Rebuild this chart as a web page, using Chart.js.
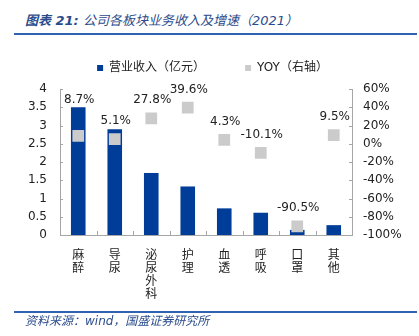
<!DOCTYPE html>
<html>
<head>
<meta charset="utf-8">
<script src="https://cdn.jsdelivr.net/npm/chart.js@4.4.1/dist/chart.umd.min.js"></script>
<style>
  body { margin: 0; background: #fff; width: 419px; height: 336px; overflow: hidden; position: relative; }
  .cap { position: absolute; left: 25px; font-family: "DejaVu Sans", "Noto Sans CJK SC", sans-serif; font-style: italic; color: #2b4c8c; white-space: nowrap; }
  #title { top: 12px; font-size: 13px; line-height: 18px; }
  #title b { font-weight: bold; }
  #foot { top: 313px; font-size: 12px; line-height: 16px; }
  .rule { position: absolute; left: 14px; width: 403px; height: 2px; background: #2f62b0; }
  #wrap { position: absolute; left: 0; top: 0; width: 419px; height: 336px; }
</style>
</head>
<body>
<div id="title"class="cap"><b>图表 21:</b> 公司各板块业务收入及增速（2021）</div>
<div class="rule" style="top:33px"></div>
<div id="wrap"><canvas id="myChart"></canvas></div>
<div class="rule" style="top:311px"></div>
<div id="foot" class="cap">资料来源：wind，国盛证券研究所</div>

<script>
// 数据
const categories = [['麻','醉'], ['导','尿'], ['泌','尿','外','科'], ['护','理'], ['血','透'], ['呼','吸'], ['口','罩'], ['其','他']]
const revenue = [3.5, 2.9, 1.7, 1.33, 0.73, 0.61, 0.14, 0.27]
const yoy = [8.7, 5.1, 27.8, 39.6, 4.3, -10.1, -90.5, 9.5]
const leftTicks = [0, 0.5, 1, 1.5, 2, 2.5, 3, 3.5, 4]
const rightTicks = [-100, -80, -60, -40, -20, 0, 20, 40, 60]

const axisColor = '#a6a6a6'
const font = { family: '"DejaVu Sans", "Noto Sans CJK SC", sans-serif', size: 12 }

// 内侧刻度 + 数据标签
const extras = {
    id: 'extras',
    afterDatasetsDraw(chart) {
        const ctx = chart.ctx
        const x = chart.scales.x, yl = chart.scales.y, yr = chart.scales.y1
        ctx.save()
        ctx.strokeStyle = axisColor
        ctx.lineWidth = 1
        ctx.beginPath()
        for (let i = 0; i < categories.length - 1; i++) {
            const px = Math.round((x.getPixelForValue(i) + x.getPixelForValue(i + 1)) / 2) + 0.5
            ctx.moveTo(px, x.top)
            ctx.lineTo(px, x.top - 4)
        }
        leftTicks.forEach(v => {
            const py = Math.round(yl.getPixelForValue(v)) + 0.5
            ctx.moveTo(yl.right, py)
            ctx.lineTo(yl.right + 3, py)
        })
        rightTicks.forEach(v => {
            const py = Math.round(yr.getPixelForValue(v)) + 0.5
            ctx.moveTo(yr.left, py)
            ctx.lineTo(yr.left - 3, py)
        })
        ctx.stroke()

        const bars = chart.getDatasetMeta(0).data
        const pts = chart.getDatasetMeta(1).data
        ctx.fillStyle = '#222'
        ctx.font = '12px "DejaVu Sans", sans-serif'
        ctx.textAlign = 'center'
        ctx.textBaseline = 'alphabetic'
        yoy.forEach((v, i) => {
            const yb = Math.min(bars[i].y - 4, pts[i].y - 15)
            ctx.fillText(v.toFixed(1) + '%', bars[i].x + 1, yb)
        })
        ctx.restore()
    }
}

const ctx = document.getElementById('myChart').getContext('2d')
const myChart = new Chart(ctx, {
    type: 'bar',
    data: {
        labels: categories,
        datasets: [{
            label: '营业收入（亿元）',
            data: revenue,
            backgroundColor: '#003d99',
            barPercentage: 0.4,
            categoryPercentage: 1,
            yAxisID: 'y',
            order: 2
        }, {
            type: 'line',
            label: 'YOY（右轴）',
            data: yoy,
            showLine: false,
            pointStyle: 'rect',
            pointRadius: 8.3,
            pointHoverRadius: 8.3,
            pointBorderWidth: 0,
            backgroundColor: '#cbcbcb',
            borderColor: '#cbcbcb',
            yAxisID: 'y1',
            order: 1
        }]
    },
    options: {
        responsive: true,
        maintainAspectRatio: false,
        animation: false,
        layout: { padding: { top: 22, left: 6, right: 0, bottom: 31 } },
        plugins: {
            legend: {
                labels: {
                    usePointStyle: true,
                    pointStyle: 'rect',
                    boxWidth: 6,
                    boxHeight: 6,
                    padding: 40,
                    color: '#222',
                    font: font,
                    sort: (a, b) => a.datasetIndex - b.datasetIndex
                }
            },
            // 图例和绘图区之间留一点空
            title: { display: true, text: '', weight: 500, padding: 0, font: { size: 4.2 } },
            tooltip: { enabled: false }
        },
        scales: {
            x: {
                grid: { display: false, drawTicks: false },
                border: { display: true, color: axisColor },
                ticks: { color: '#222', font: { family: font.family, size: 12, lineHeight: 1.1 }, padding: 14, maxRotation: 0, autoSkip: false },
                afterFit: s => { s.height = 70 }
            },
            y: {
                position: 'left',
                min: 0, max: 4,
                grid: { display: false, drawTicks: false },
                border: { display: true, color: axisColor },
                ticks: { stepSize: 0.5, color: '#222', font: font, padding: 13, callback: v => String(v) },
                afterFit: s => { s.width = 54 }
            },
            y1: {
                position: 'right',
                min: -100, max: 60,
                grid: { display: false, drawTicks: false },
                border: { display: true, color: axisColor },
                ticks: { stepSize: 20, color: '#222', font: font, padding: 11, callback: v => v + '%' },
                afterFit: s => { s.width = 67 }
            }
        }
    },
    plugins: [extras]
})
</script>
</body>
</html>
